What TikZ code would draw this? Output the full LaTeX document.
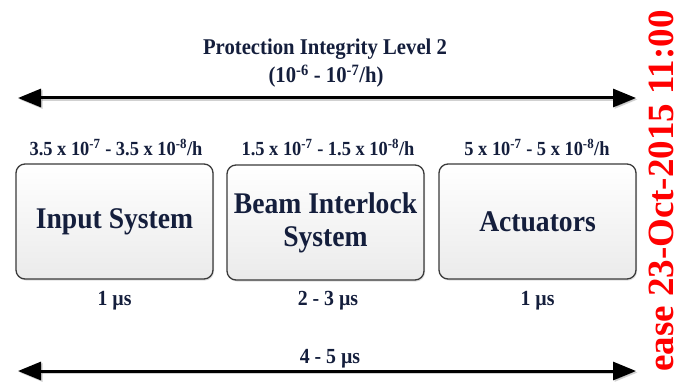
\documentclass[tikz,border=0pt]{standalone}
\usepackage{fontspec}
\setmainfont[FakeStretch=0.92]{Liberation Serif}
\usetikzlibrary{arrows.meta,shadows}
\definecolor{navy}{HTML}{141E3C}
\definecolor{boxline}{HTML}{3A3A3A}
\definecolor{stampred}{HTML}{FF0000}
\newfontfamily\stampfont{Liberation Serif}
\tikzset{
  sysbox/.style={draw=boxline, line width=1.3pt, rounded corners=9pt,
    minimum width=197pt, minimum height=115pt, inner sep=0pt,
    top color=white, bottom color=gray!16, text=navy, align=center,
    font=\fontsize{30}{33}\selectfont\bfseries,
    drop shadow={opacity=0.25, shadow xshift=1pt, shadow yshift=-1.5pt}},
  ratelabel/.style={text=navy, anchor=base, inner sep=0pt,
    font=\fontsize{20}{24}\selectfont\bfseries},
  timelabel/.style={text=navy, anchor=base, inner sep=0pt,
    font=\fontsize{21.5}{24}\selectfont\bfseries},
  titletext/.style={text=navy, anchor=base, inner sep=0pt,
    font=\fontsize{22.5}{26}\selectfont\bfseries},
  spanarrow/.style={line width=3pt, {Triangle[length=23pt,width=18pt]}-{Triangle[length=23pt,width=18pt]}},
  spanshadow/.style={line width=3pt, black, opacity=0.18, {Triangle[length=23pt,width=18pt]}-{Triangle[length=23pt,width=18pt]}}
}
\begin{document}
\begin{tikzpicture}[x=1pt,y=-1pt]
\useasboundingbox (0,0) rectangle (685,382);
\clip (0,0) rectangle (685,382);
\fill[white] (0,0) rectangle (685,382);

% title
\node[titletext] (title1) at (325,55) {Protection Integrity Level 2};
\node[titletext] (title2) at (326,83) {(10\textsuperscript{-6} - 10\textsuperscript{-7}/h)};

% top span arrow
\coordinate (tl) at (18,98);
\coordinate (tr) at (636,98);
\coordinate (tls) at (19.5,99.5);
\coordinate (trs) at (637.5,99.5);
\draw[spanshadow] (tls) -- (trs);
\draw[spanarrow] (tl) -- (tr);

% rate labels
\node[ratelabel] (r1) at (116,156) {3.5 x 10\textsuperscript{-7} - 3.5 x 10\textsuperscript{-8}/h};
\node[ratelabel] (r2) at (328,156) {1.5 x 10\textsuperscript{-7} - 1.5 x 10\textsuperscript{-8}/h};
\node[ratelabel] (r3) at (537,156) {5 x 10\textsuperscript{-7} - 5 x 10\textsuperscript{-8}/h};

% boxes
\node[sysbox] (inp) at (114.5,221.5) {Input System};
\node[sysbox] (bis) at (325.5,222.5) {Beam Interlock\\System};
\node[sysbox] (act) at (537.5,221.5) {Actuators};

% time labels
\node[timelabel] (t1) at (114.5,305) {1 µs};
\node[timelabel] (t2) at (328,305) {2 - 3 µs};
\node[timelabel] (t3) at (537.5,305) {1 µs};
\node[timelabel] (ttot) at (330,363) {4 - 5 µs};

% bottom span arrow
\coordinate (bl) at (18,371);
\coordinate (br) at (636,371);
\coordinate (bls) at (19.5,372.5);
\coordinate (brs) at (637.5,372.5);
\draw[spanshadow] (bls) -- (brs);
\draw[spanarrow] (bl) -- (br);

% red stamp
\node[rotate=90, anchor=base east, inner sep=0pt, text=stampred,
  font=\stampfont\fontsize{37}{40}\selectfont\bfseries] (stamp) at (673,10) {ease 23-Oct-2015 11:00};
\end{tikzpicture}
\end{document}
